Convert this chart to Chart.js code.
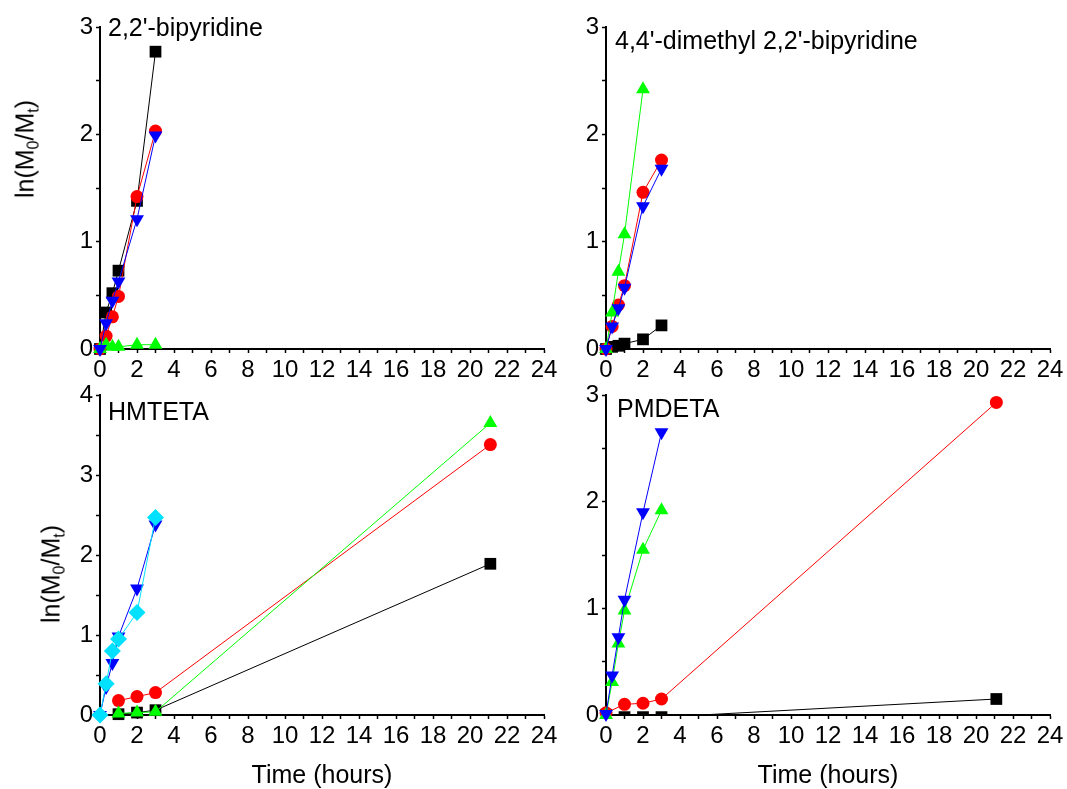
<!DOCTYPE html>
<html>
<head>
<meta charset="utf-8">
<script src="https://cdn.jsdelivr.net/npm/chart.js@4.4.1/dist/chart.umd.min.js"></script>
<style>
    body { margin: 0; background: #fff; width: 1067px; height: 789px; overflow: hidden; position: relative; font-family: "Liberation Sans", Arial, sans-serif; }
    canvas { position: absolute; }
    .lbl { position: absolute; font-size: 25px; line-height: 25px; color: #000; white-space: nowrap; }
    .ytitle { position: absolute; font-size: 25px; line-height: 25px; color: #000; white-space: nowrap; transform: translate(-50%, -50%) rotate(-90deg); }
    .ytitle sub { font-size: 16px; line-height: 0; vertical-align: -5px; }
    .xtitle { position: absolute; font-size: 25px; line-height: 25px; color: #000; white-space: nowrap; transform: translateX(-50%); }
</style>
</head>
<body>
<canvas id="tl" width="572" height="392" style="left:0;top:0"></canvas>
<canvas id="tr" width="495" height="392" style="left:572px;top:0"></canvas>
<canvas id="bl" width="572" height="417" style="left:0;top:372px"></canvas>
<canvas id="br" width="495" height="417" style="left:572px;top:372px"></canvas>

<div class="lbl" style="left:108px;top:15px">2,2'-bipyridine</div>
<div class="lbl" style="left:615px;top:28px">4,4'-dimethyl 2,2'-bipyridine</div>
<div class="lbl" style="left:108px;top:399px">HMTETA</div>
<div class="lbl" style="left:617px;top:396px">PMDETA</div>

<div class="ytitle" style="left:25px;top:149px">ln(M<sub>0</sub>/M<sub>t</sub>)</div>
<div class="ytitle" style="left:51px;top:574px">ln(M<sub>0</sub>/M<sub>t</sub>)</div>
<div class="xtitle" style="left:322px;top:762px">Time (hours)</div>
<div class="xtitle" style="left:828px;top:762px">Time (hours)</div>

<script>
// time axis values (hours) and ln(M0/Mt) readings per ligand panel
const bpyTime   = [0, 0.33, 0.67, 1, 2, 3];
const bpyBlack  = [0, 0.34, 0.52, 0.73, 1.38, 2.77];
const bpyRed    = [0, 0.12, 0.30, 0.49, 1.42, 2.03];
const bpyGreen  = [0, 0.04, 0.02, 0.02, 0.04, 0.04];
const bpyBlue   = [0, 0.24, 0.45, 0.63, 1.21, 1.99];

const dmbTime      = [0, 0.33, 0.67, 1, 2, 3];
const dmbGreenTime = [0, 0.33, 0.67, 1, 2];
const dmbBlack     = [0, 0.02, 0.03, 0.05, 0.09, 0.22];
const dmbRed       = [0, 0.21, 0.41, 0.59, 1.46, 1.76];
const dmbGreen     = [0, 0.34, 0.72, 1.07, 2.42];
const dmbBlue      = [0, 0.21, 0.38, 0.57, 1.33, 1.68];

const hmTimeFast = [0, 0.33, 0.67, 1, 2, 3];
const hmTimeSlow = [1, 2, 3, 21.1];
const hmBlack    = [0.01, 0.03, 0.06, 1.89];
const hmRed      = [0.18, 0.23, 0.28, 3.38];
const hmGreen    = [0.02, 0.03, 0.04, 3.65];
const hmBlue     = [0, 0.35, 0.65, 0.98, 1.58, 2.38];
const hmCyan     = [0, 0.39, 0.80, 0.95, 1.28, 2.47];

const pmTimeFast = [0, 0.33, 0.67, 1, 2, 3];
const pmTimeSlow = [0, 1, 2, 3, 21.1];
const pmBlack    = [0, -0.02, -0.02, -0.02, 0.15];
const pmRed      = [0.02, 0.10, 0.11, 0.15, 2.93];
const pmGreen    = [0, 0.31, 0.67, 0.98, 1.55, 1.92];
const pmBlue     = [0.01, 0.37, 0.73, 1.08, 1.90, 2.65];

const xTicksMax = 24;

const STYLE = {
    black: { color: '#000000', pointStyle: 'rect', radius: 8.3, rotation: 0, order: 5 },
    red:   { color: '#ff0000', pointStyle: 'circle', radius: 6.5, rotation: 0, order: 4 },
    green: { color: '#00ff00', pointStyle: 'triangle', radius: 8, rotation: 0, order: 3 },
    blue:  { color: '#0000ff', pointStyle: 'triangle', radius: 8, rotation: 180, order: 2 },
    cyan:  { color: '#00e1ff', pointStyle: 'rectRot', radius: 8.5, rotation: 0, order: 1 }
};

function series(kind, times, vals, clip) {
    const s = STYLE[kind];
    return {
        data: times.map((t, i) => ({ x: t, y: vals[i] })),
        borderColor: s.color,
        backgroundColor: s.color,
        borderWidth: 1,
        pointStyle: s.pointStyle,
        pointRadius: s.radius,
        pointRotation: s.rotation,
        pointBackgroundColor: s.color,
        pointBorderWidth: 0,
        tension: 0,
        clip: clip === undefined ? false : clip,
        order: s.order
    };
}

const tickFont = { family: '"Liberation Sans", Arial, sans-serif', size: 24 };

function makePanel(id, yWidth, padTop, padRight, xHeight, yMax, datasets) {
    return new Chart(document.getElementById(id), {
        type: 'line',
        data: { datasets },
        options: {
            responsive: false,
            animation: false,
            devicePixelRatio: 1,
            layout: { padding: { top: padTop, right: padRight, left: 0, bottom: 0 } },
            plugins: { legend: { display: false }, tooltip: { enabled: false } },
            scales: {
                x: {
                    type: 'linear', min: 0, max: xTicksMax,
                    afterFit: s => { s.height = xHeight; },
                    ticks: {
                        stepSize: 1, autoSkip: false, maxRotation: 0, padding: 3,
                        color: '#000', font: tickFont,
                        callback: v => (v % 2 === 0 ? v : '')
                    },
                    grid: { drawOnChartArea: false, drawTicks: true, tickLength: 4, tickWidth: 1.5, tickColor: '#000' },
                    border: { display: true, color: '#000', width: 2 }
                },
                y: {
                    type: 'linear', min: 0, max: yMax,
                    afterFit: s => { s.width = yWidth; },
                    ticks: {
                        stepSize: 0.5, autoSkip: false, padding: 3,
                        color: '#000', font: tickFont,
                        callback: v => (Number.isInteger(v) ? v : '')
                    },
                    grid: { drawOnChartArea: false, drawTicks: true, tickLength: 4, tickWidth: 1.5, tickColor: '#000' },
                    border: { display: true, color: '#000', width: 2 }
                }
            }
        }
    });
}

makePanel('tl', 100, 27, 28, 43, 3, [
    series('black', bpyTime, bpyBlack),
    series('red', bpyTime, bpyRed),
    series('green', bpyTime, bpyGreen),
    series('blue', bpyTime, bpyBlue)
]);

makePanel('tr', 34, 27, 17, 43, 3, [
    series('black', dmbTime, dmbBlack),
    series('red', dmbTime, dmbRed),
    series('green', dmbGreenTime, dmbGreen),
    series('blue', dmbTime, dmbBlue)
]);

makePanel('bl', 100, 23, 28, 74, 4, [
    series('black', hmTimeSlow, hmBlack),
    series('red', hmTimeSlow, hmRed),
    series('green', hmTimeSlow, hmGreen),
    series('blue', hmTimeFast, hmBlue),
    series('cyan', hmTimeFast, hmCyan)
]);

// black PMDETA points sit just under the axis and are cut off there, like the original
makePanel('br', 34, 23, 17, 74, 3, [
    series('black', pmTimeSlow, pmBlack, { left: 12, top: 12, right: 12, bottom: 0 }),
    series('red', pmTimeSlow, pmRed),
    series('green', pmTimeFast, pmGreen),
    series('blue', pmTimeFast, pmBlue)
]);
</script>
</body>
</html>
